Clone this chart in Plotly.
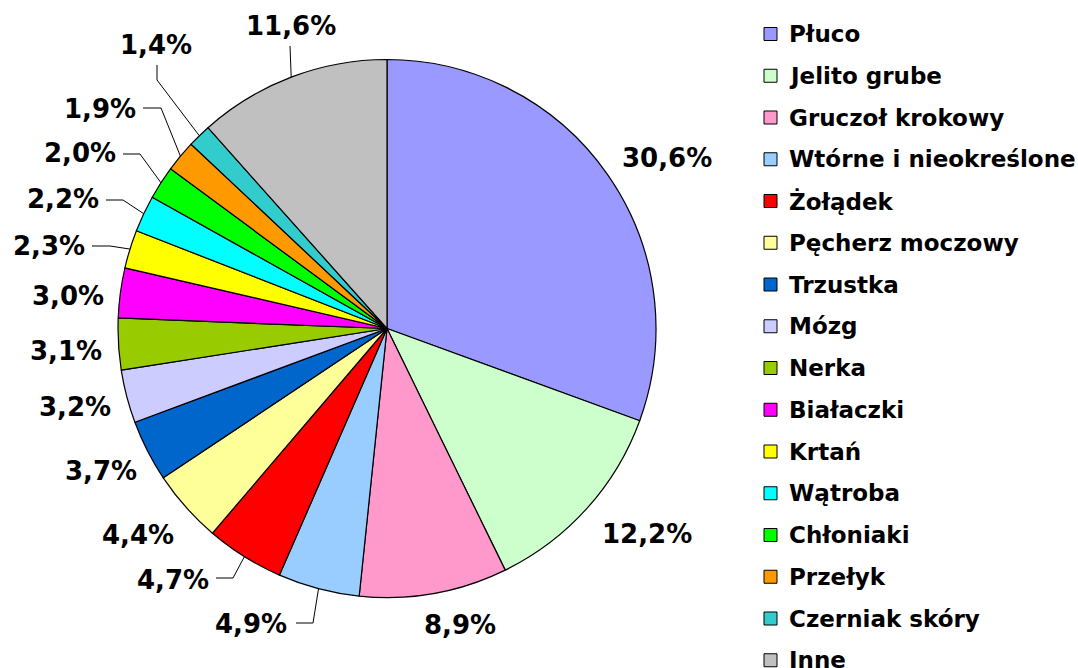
import math
import plotly.graph_objects as go

# ---- data ----
categories = ["Płuco", "Jelito grube", "Gruczoł krokowy", "Wtórne i nieokreślone",
              "Żołądek", "Pęcherz moczowy", "Trzustka", "Mózg", "Nerka", "Białaczki",
              "Krtań", "Wątroba", "Chłoniaki", "Przełyk", "Czerniak skóry", "Inne"]
values = [30.6, 12.2, 8.9, 4.9, 4.7, 4.4, 3.7, 3.2, 3.1, 3.0, 2.3, 2.2, 2.0, 1.9, 1.4, 11.6]
colors = ["#9999FF", "#CCFFCC", "#FF99CC", "#99CCFF", "#FF0000", "#FFFF99", "#0066CC",
          "#CCCCFF", "#99CC00", "#FF00FF", "#FFFF00", "#00FFFF", "#00FF00", "#FF9900",
          "#33CCCC", "#C0C0C0"]

# ---- layout (pixels) ----
W, H = 1078, 668
CX, CY, R = 387, 328.5, 269
FONT = "DejaVu Sans"

# label centres (px) for each slice
label_pos = [(667, 158), (647, 534), (460, 625), (251.5, 624), (172.5, 580), (138, 535),
             (101, 471), (74.5, 407), (65.5, 351), (67.5, 296), (49, 246), (63, 199),
             (80, 153), (100, 109), (156, 45), (291, 26)]
# leader line start/elbow points (px); the end point is the slice edge at mid-angle
leaders = {3: [(296, 623), (313, 623)], 4: [(216, 578), (233, 578)],
           10: [(92, 246), (110, 246)], 11: [(106, 200), (123, 200)],
           12: [(123, 154), (140, 154)], 13: [(143, 108), (161, 108)],
           14: [(157, 65), (157, 80)], 15: [(290, 46)]}


def px(x):
    return x / W


def py(y):
    return 1 - y / H


fig = go.Figure(go.Pie(
    labels=categories, values=values, sort=False, direction="clockwise", rotation=0,
    marker=dict(colors=colors, line=dict(color="black", width=1.2)),
    textinfo="none", hoverinfo="label+percent", showlegend=False,
    domain=dict(x=[px(CX - R), px(CX + R)], y=[py(CY + R), py(CY - R)]),
))

annotations = []
shapes = []
total = sum(values)
cum = 0.0
for i, v in enumerate(values):
    mid = (cum + v / 2) / total * 2 * math.pi
    cum += v
    lx, ly = label_pos[i]
    annotations.append(dict(
        x=px(lx), y=py(ly), xref="paper", yref="paper", showarrow=False,
        xanchor="center", yanchor="middle",
        text=f"{v:.1f}".replace(".", ",") + "%",
        font=dict(family=FONT, size=26, color="black", weight="bold")))
    if i in leaders:
        ex = CX + R * math.sin(mid)
        ey = CY - R * math.cos(mid)
        pts = leaders[i] + [(ex, ey)]
        path = "M " + " L ".join(f"{px(x)},{py(y)}" for x, y in pts)
        shapes.append(dict(type="path", path=path, xref="paper", yref="paper",
                           line=dict(color="black", width=1)))

# ---- legend (manual, to match spacing) ----
LEG_X, LEG_Y0, LEG_DY, SQ = 764, 34, 41.75, 13
for i, (name, c) in enumerate(zip(categories, colors)):
    yc = LEG_Y0 + LEG_DY * i
    shapes.append(dict(type="rect", xref="paper", yref="paper",
                       x0=px(LEG_X), x1=px(LEG_X + SQ), y0=py(yc + SQ / 2), y1=py(yc - SQ / 2),
                       fillcolor=c, line=dict(color="black", width=1)))
    annotations.append(dict(
        x=px(787), y=py(yc), xref="paper", yref="paper", showarrow=False,
        xanchor="left", yanchor="middle", text=name,
        font=dict(family=FONT, size=23, color="black", weight="bold")))

fig.update_layout(width=W, height=H, margin=dict(l=0, r=0, t=0, b=0),
                  paper_bgcolor="white", plot_bgcolor="white",
                  annotations=annotations, shapes=shapes)
fig.write_html("out.html", config={"displayModeBar": False},
               post_script="document.body.style.margin='0px';document.body.style.overflow='hidden';")
